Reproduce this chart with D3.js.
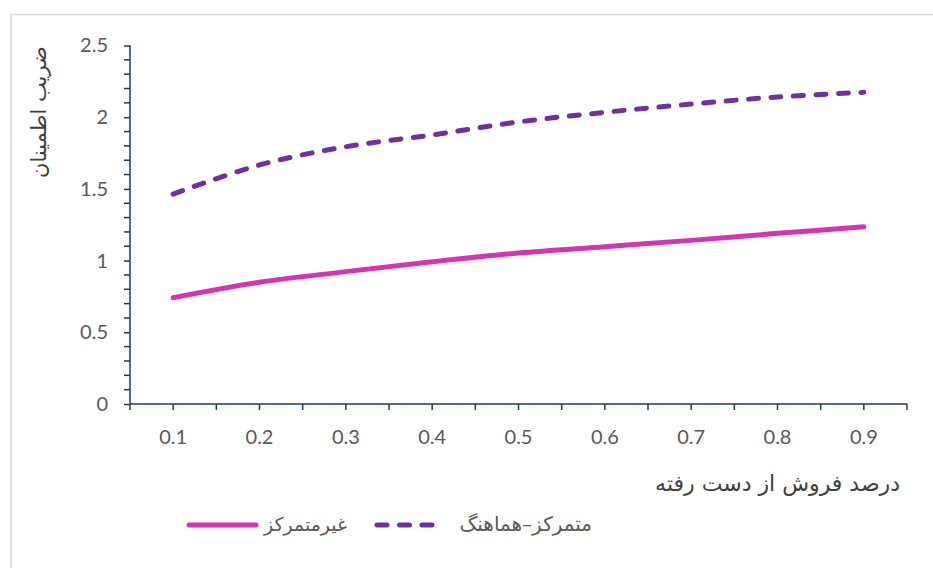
<!DOCTYPE html>
<html><head><meta charset="utf-8">
<script src="https://cdn.jsdelivr.net/npm/d3@7"></script>
<style>
html,body{margin:0;padding:0;background:#fff;}
svg{display:block;}
</style>
</head><body>
<svg id="c" width="933" height="568"></svg>
<script>
const categories = ["0.1","0.2","0.3","0.4","0.5","0.6","0.7","0.8","0.9"];
const seriesNames = ["غیرمتمرکز","متمرکز–هماهنگ"];
const decentralized = [0.741,0.849,0.923,0.992,1.053,1.097,1.141,1.190,1.236];
const coordinated = [1.464,1.667,1.794,1.876,1.967,2.034,2.092,2.141,2.174];
const yTicks = [0,0.5,1,1.5,2,2.5];
const xTitle = "درصد فروش از دست رفته";
const yTitle = "ضریب اطمینان";

const svg = d3.select("#c");
const L = 130, R = 907, T = 45.5, B = 404;
const axisColor = "#1F3864";
const labelColor = "#595959";
const numFont = "Lato, 'Open Sans', sans-serif";
const faFont = "'DejaVu Sans', sans-serif";

// chart border
svg.append("rect").attr("x",11).attr("y",14.5).attr("width",1000).attr("height",600)
  .attr("fill","none").attr("stroke","#d9d9d9").attr("stroke-width",1.5);

const x = d3.scaleBand().domain(categories).range([L,R]);
const y = d3.scaleLinear().domain([0,2.5]).range([B,T]);
const xc = d => x(d) + x.bandwidth()/2;

// y axis
const yAxis = svg.append("g").attr("transform",`translate(${L},0)`)
  .call(d3.axisLeft(y).tickValues(yTicks).tickSize(6).tickPadding(16).tickFormat(d3.format("")));
yAxis.select(".domain").remove();
yAxis.selectAll(".tick line").attr("stroke",axisColor).attr("stroke-width",1.5);
yAxis.selectAll("text").attr("fill",labelColor).style("font-family",numFont).style("font-size","20px");
// minor y ticks
const minorY = d3.range(0,2.51,0.1).map(v=>+v.toFixed(1)).filter(v=>!yTicks.includes(v));
svg.append("g").selectAll("line").data(minorY).join("line")
  .attr("x1",L-6).attr("x2",L).attr("y1",d=>y(d)).attr("y2",d=>y(d))
  .attr("stroke",axisColor).attr("stroke-width",1.5);
svg.append("line").attr("x1",L).attr("x2",L).attr("y1",T).attr("y2",B)
  .attr("stroke",axisColor).attr("stroke-width",1.5);

// x axis
const xAxis = svg.append("g").attr("transform",`translate(0,${B})`)
  .call(d3.axisBottom(x).tickSize(0).tickPadding(26));
xAxis.select(".domain").remove();
xAxis.selectAll("text").attr("fill",labelColor).style("font-family",numFont).style("font-size","20px");
const xTickPos = d3.range(0, categories.length*2+1).map(i => L + i*x.bandwidth()/2);
svg.append("g").selectAll("line").data(xTickPos).join("line")
  .attr("x1",d=>d).attr("x2",d=>d).attr("y1",B).attr("y2",B+6)
  .attr("stroke",axisColor).attr("stroke-width",1.5);
svg.append("line").attr("x1",L).attr("x2",R).attr("y1",B).attr("y2",B)
  .attr("stroke",axisColor).attr("stroke-width",1.5);

// lines
const line = d3.line().x((d,i)=>xc(categories[i])).y(d=>y(d)).curve(d3.curveCatmullRom.alpha(0.5));
const colors = ["#D535B0","#7030A0"];
svg.append("path").attr("d",line(decentralized)).attr("fill","none")
  .attr("stroke",colors[0]).attr("stroke-width",5).attr("stroke-linecap","round");
svg.append("path").attr("d",line(coordinated)).attr("fill","none")
  .attr("stroke",colors[1]).attr("stroke-width",5).attr("stroke-linecap","round")
  .attr("stroke-dasharray","10,12.5");

// titles
svg.append("text").attr("x",900).attr("y",491).attr("text-anchor","end")
  .attr("fill","#404040").style("font-family",faFont).style("font-size","22px")
  .text(xTitle);
svg.append("text").attr("transform","translate(46,112) rotate(-90)").attr("text-anchor","middle")
  .attr("fill","#404040").style("font-family",faFont).style("font-size","21px")
  .text(yTitle);

// legend
const lg = svg.append("g");
lg.append("line").attr("x1",189).attr("x2",256).attr("y1",525).attr("y2",525)
  .attr("stroke",colors[0]).attr("stroke-width",5).attr("stroke-linecap","round");
lg.append("text").attr("x",347).attr("y",531).attr("text-anchor","end")
  .attr("fill","#595959").style("font-family",faFont).style("font-size","19px").text(seriesNames[0]);
lg.append("line").attr("x1",377).attr("x2",436).attr("y1",525).attr("y2",525)
  .attr("stroke",colors[1]).attr("stroke-width",5).attr("stroke-linecap","round")
  .attr("stroke-dasharray","10,12.5");
lg.append("text").attr("x",592).attr("y",531).attr("text-anchor","end")
  .attr("fill","#595959").style("font-family",faFont).style("font-size","20px").text(seriesNames[1]);
</script>
</body></html>
